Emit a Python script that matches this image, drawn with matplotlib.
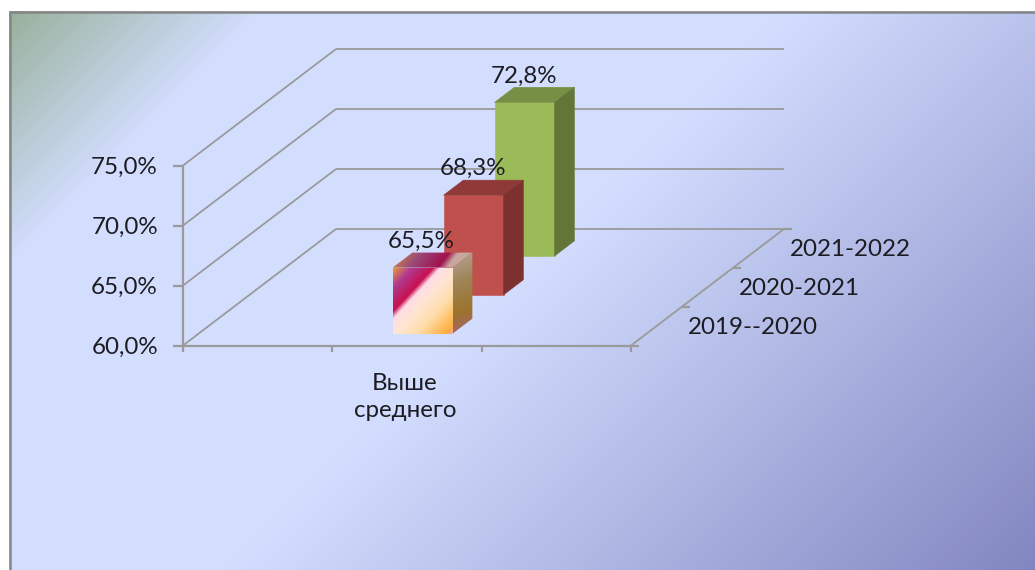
#!/usr/bin/env python3
"""Псевдо-3D столбцы: доля "Выше среднего" по учебным годам."""

import matplotlib
matplotlib.use("Agg")
import matplotlib.pyplot as plt
import numpy as np
from matplotlib.colors import LinearSegmentedColormap
from matplotlib.patches import Polygon

plt.rcParams["font.family"] = ["Lato", "DejaVu Sans"]

CATEGORY = "Выше\nсреднего"
SERIES = ["2019--2020", "2020-2021", "2021-2022"]
VALUES = [65.5, 68.3, 72.8]
VALUE_LABELS = ["65,5%", "68,3%", "72,8%"]
Y_TICKS = [60, 65, 70, 75]
Y_TICK_LABELS = ["60,0%", "65,0%", "70,0%", "75,0%"]

# геометрия проекции, в пикселях картинки
X0, Y0 = 183, 345.5
WIDTH = 448
DEPTH_DX, DEPTH_DY = 153, -116.5
PX_PER_UNIT = 12
BAR_W = 0.134
BAR_D = 0.129
GAP_D = 0.102

LINE = "#9a9a9a"
TEXT = "#1c1c22"
FS = 17.4

BG_CMAP = LinearSegmentedColormap.from_list("bg", [
    (0.0, "#94ad94"), (275 / 1605, "#d3deff"), (793 / 1605, "#d3deff"), (1.0, "#8286c0"),
])
FRONT_CMAP = LinearSegmentedColormap.from_list("front", [
    (0.0, "#e8983a"), (0.15, "#b03a90"), (0.33, "#c8104e"), (0.385, "#ffdce8"),
    (0.52, "#ffe6d2"), (0.70, "#ffdca8"), (0.93, "#fdb040"), (1.0, "#f8a0b0"),
])
TOP_CMAP = LinearSegmentedColormap.from_list("top", [
    (0.0, "#d89438"), (0.3, "#9a4a78"), (0.62, "#a0104e"), (0.72, "#c8a8a0"), (1.0, "#c0a898"),
])
SIDE_CMAP = LinearSegmentedColormap.from_list("side", [
    (0.0, "#b8a49c"), (0.35, "#a08558"), (0.7, "#9c742c"), (1.0, "#a8607a"),
])
# обычные столбцы: (перед, верх, бок)
SOLID_FACES = {1: ("#c0504d", "#8f3a38", "#7d312f"), 2: ("#9bbb59", "#778f44", "#637637")}


def project(x, depth, value):
    """x и depth в долях 0..1, value в процентах -> пиксели."""
    px = X0 + x * WIDTH + depth * DEPTH_DX
    py = Y0 + depth * DEPTH_DY - (value - Y_TICKS[0]) * PX_PER_UNIT
    return px, py


def line(ax, p1, p2, lw=1.3):
    ax.plot([p1[0], p2[0]], [p1[1], p2[1]], color=LINE, lw=lw, solid_capstyle="butt", zorder=2)


def gradient_face(ax, verts, cmap, wx, wy, zorder):
    """Заливка многоугольника диагональным градиентом через imshow + clip."""
    xs, ys = zip(*verts)
    extent = (min(xs), max(xs), max(ys), min(ys))
    gx, gy = np.meshgrid(np.linspace(0, 1, 120), np.linspace(0, 1, 120))
    grad = (wx * gx + wy * gy) / (wx + wy)
    im = ax.imshow(grad, cmap=cmap, vmin=0, vmax=1, extent=extent, aspect="auto",
                   interpolation="bilinear", zorder=zorder)
    im.set_clip_path(Polygon(verts, closed=True, transform=ax.transData))


def bar_faces(x0, x1, d0, d1, value):
    front = [project(x0, d0, Y_TICKS[0]), project(x1, d0, Y_TICKS[0]),
             project(x1, d0, value), project(x0, d0, value)]
    top = [project(x0, d0, value), project(x1, d0, value),
           project(x1, d1, value), project(x0, d1, value)]
    side = [project(x1, d0, Y_TICKS[0]), project(x1, d1, Y_TICKS[0]),
            project(x1, d1, value), project(x1, d0, value)]
    return front, top, side


def main():
    fig = plt.figure(figsize=(10.35, 5.7), dpi=100)
    ax = fig.add_axes([0, 0, 1, 1])

    # фон с рамкой
    gx, gy = np.meshgrid(np.arange(0, 1035), np.arange(0, 570))
    ax.imshow((gx + gy) / 1605, cmap=BG_CMAP, vmin=0, vmax=1, extent=(0, 1035, 570, 0),
              aspect="auto", zorder=0)
    ax.add_patch(plt.Rectangle((0, 0), 1035, 11, color="white", lw=0, zorder=1))
    ax.add_patch(plt.Rectangle((0, 0), 9, 570, color="white", lw=0, zorder=1))
    ax.plot([10, 10, 1035], [570, 11.5, 11.5], color="#868686", lw=1.8, zorder=1)

    # сетка на стенках, подписи оси значений
    for tick, label in zip(Y_TICKS, Y_TICK_LABELS):
        line(ax, project(0, 0, tick), project(0, 1, tick))
        line(ax, project(0, 1, tick), project(1, 1, tick))
        tx, ty = project(0, 0, tick)
        line(ax, (tx - 10, ty), (tx, ty), lw=1.6)
        ax.text(tx - 25, ty + 1.5, label, ha="right", va="center", fontsize=FS, color=TEXT, zorder=6)
    line(ax, project(0, 0, Y_TICKS[0]), project(0, 0, Y_TICKS[-1]), lw=1.6)

    # пол и его засечки
    line(ax, project(0, 0, Y_TICKS[0]), project(1, 0, Y_TICKS[0]), lw=1.6)
    line(ax, project(1, 0, Y_TICKS[0]), project(1, 1, Y_TICKS[0]))
    for frac in (0, 1 / 3, 2 / 3, 1):
        tx, ty = project(frac, 0, Y_TICKS[0])
        line(ax, (tx, ty), (tx, ty + 6.5), lw=1.6)
    for frac in (0, 1 / 3, 2 / 3, 1):
        tx, ty = project(1, frac, Y_TICKS[0])
        line(ax, (tx, ty), (tx + 8, ty), lw=1.6)

    # столбцы от дальнего к ближнему
    cell = 1 / len(SERIES)
    for i in reversed(range(len(SERIES))):
        d0 = i * cell + GAP_D
        d1 = d0 + BAR_D
        x0, x1 = 0.5 - BAR_W / 2, 0.5 + BAR_W / 2
        front, top, side = bar_faces(x0, x1, d0, d1, VALUES[i])
        z = 3 + (len(SERIES) - i) * 0.1
        if i in SOLID_FACES:
            for verts, col in zip((front, top, side), SOLID_FACES[i]):
                ax.add_patch(Polygon(verts, closed=True, facecolor=col, edgecolor=col, lw=0.4, zorder=z))
        else:
            gradient_face(ax, front, FRONT_CMAP, 1, 1, z)
            gradient_face(ax, top, TOP_CMAP, 1, 0.15, z)
            gradient_face(ax, side, SIDE_CMAP, 0.1, 1, z)
        lx, ly = project(0.5, d0, VALUES[i])
        ax.text(lx - 1, ly - 26.5, VALUE_LABELS[i], ha="center", va="center",
                fontsize=FS, color=TEXT, zorder=6)

    # подписи рядов и категории
    for i, name in enumerate(SERIES):
        sx, sy = project(1, (i + 0.5) * cell, Y_TICKS[0])
        ax.text(sx + 31.5, sy + 1, name, ha="left", va="center", fontsize=FS, color=TEXT, zorder=6)
    cx, cy = project(0.5, 0, Y_TICKS[0])
    ax.text(cx - 2, cy + 51.5, CATEGORY, ha="center", va="center", fontsize=FS, color=TEXT,
            linespacing=1.4, zorder=6)

    ax.set_xlim(0, 1035)
    ax.set_ylim(570, 0)
    ax.axis("off")
    fig.savefig("out.png", dpi=100)
    plt.close(fig)


if __name__ == "__main__":
    main()
